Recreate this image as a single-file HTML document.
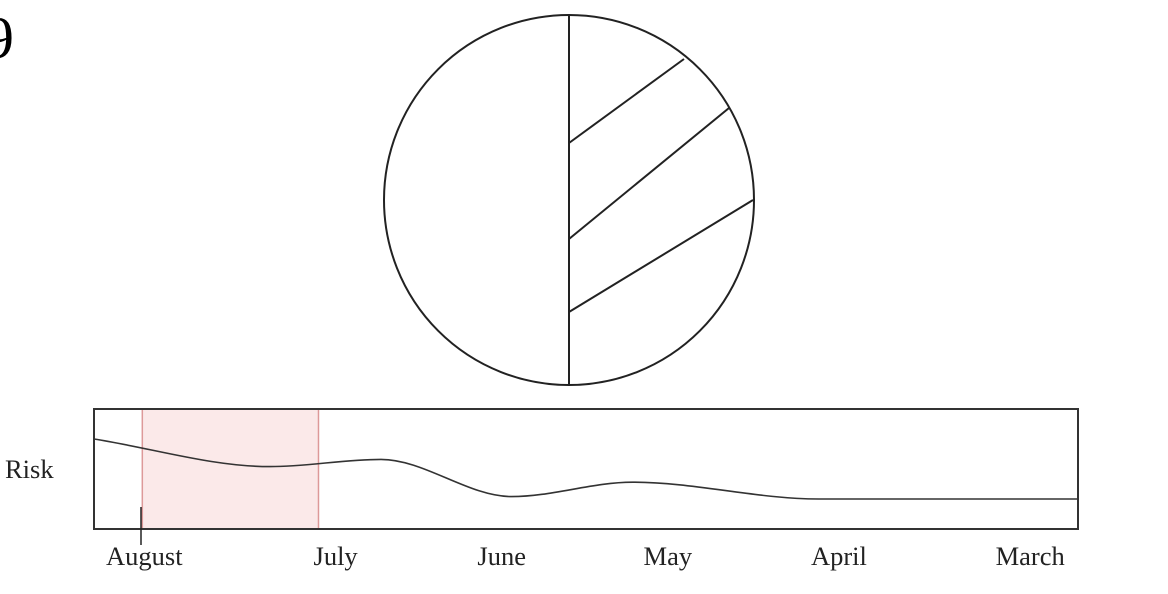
<!DOCTYPE html>
<html><head><meta charset="utf-8"><style>
html,body{margin:0;padding:0;background:#fff;}
svg{display:block;font-family:"Liberation Serif",serif;}
</style></head><body>
<svg id="c" width="1168" height="594">
<text x="-16" y="58" font-size="60">9</text>
<g fill="none" stroke="#222" stroke-width="2">
<circle cx="569" cy="200" r="185"/>
<line x1="569" y1="15" x2="569" y2="385"/>
<line x1="569" y1="143" x2="684" y2="59"/>
<line x1="569" y1="239" x2="729" y2="108"/>
<line x1="569" y1="312" x2="753" y2="200"/>
</g>
<g id="lc"></g>
</svg>
<script>
const tickLabels=["August","July","June","May","April","March"];
const tickDays=[0,38,71,104,138,176];
const pointDays=[-10,25,47,73,97,134,185.5];
const riskValues=[0.75,0.52,0.58,0.27,0.39,0.25,0.25];
const brushDays=[-0.4,34.6];
const NS="http://www.w3.org/2000/svg";
const g=document.getElementById('lc');
const X0=94,X1=1078,Y0=409,Y1=529,D0=-10,D1=185.5;
const xs=d=>X0+(d-D0)/(D1-D0)*(X1-X0);
const ys=v=>Y1-v*(Y1-Y0);
function mk(t,a){const e=document.createElementNS(NS,t);for(const k in a)e.setAttribute(k,a[k]);g.appendChild(e);return e;}
const br=mk('rect',{x:xs(brushDays[0]),y:Y0,width:xs(brushDays[1])-xs(brushDays[0]),height:Y1-Y0,fill:'#fbe9e9',stroke:'#d99',"stroke-width":1.5});


let p=[];for(let i=0;i<pointDays.length;i++)p.push([xs(pointDays[i]),ys(riskValues[i])]);
// monotone X
const n=p.length,sl=[],tg=[];
for(let i=0;i<n-1;i++)sl.push((p[i+1][1]-p[i][1])/(p[i+1][0]-p[i][0]));
for(let i=0;i<n;i++){
 if(i==0)tg.push(sl[0]);else if(i==n-1)tg.push(sl[n-2]);
 else{const a=sl[i-1],b=sl[i];tg.push(a*b<=0?0:(a+b)/2);}
}
let d='M'+p[0][0]+','+p[0][1];
for(let i=1;i<n;i++){const h=(p[i][0]-p[i-1][0])/3;
 d+=' C'+(p[i-1][0]+h)+','+(p[i-1][1]+tg[i-1]*h)+' '+(p[i][0]-h)+','+(p[i][1]-tg[i]*h)+' '+p[i][0]+','+p[i][1];}
const ln=mk('path',{d:d,fill:'none',stroke:'#333',"stroke-width":1.6});


const fr=mk('rect',{x:X0,y:Y0,width:X1-X0,height:Y1-Y0,fill:'none',stroke:'#333',"stroke-width":2});


const tk=mk('line',{x1:141,y1:507,x2:141,y2:545,stroke:'#222',"stroke-width":1.5});


for(let i=0;i<tickLabels.length;i++){
 const t=mk('text',{x:xs(tickDays[i]),y:565,"font-size":26.5,"text-anchor":"middle",fill:'#222'});
 t.textContent=tickLabels[i];
 
 
}
const yl=mk('text',{x:5,y:478,"font-size":26.5,fill:'#222'});
yl.textContent='Risk';


</script>
</body></html>
